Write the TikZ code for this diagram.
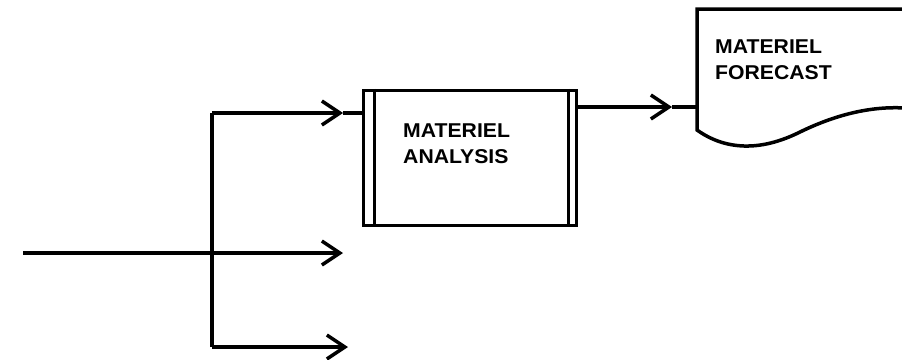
\documentclass[tikz,border=0pt]{standalone}
\usepackage{fontspec}
\setmainfont{Liberation Sans}[FakeStretch=1.06]
\usetikzlibrary{arrows.meta}
\begin{document}
\begin{tikzpicture}[x=1pt,y=-1pt,
  flow/.style={line width=3.5pt},
  barb/.style={-{Straight Barb[length=18pt,width=24pt]}},
  lbl/.style={font=\bfseries\fontsize{20}{24}\selectfont, inner sep=0pt, anchor=base west},
  procbox/.style={draw, line width=3.5pt, minimum width=213pt, minimum height=135pt, inner sep=0pt},
  stripe/.style={line width=3pt},
]
\useasboundingbox (0,0) rectangle (902,359);
% process box
\node[procbox] (ana) at (470,158) {};
\draw[stripe] ([xshift=13pt]ana.north west) -- ([xshift=13pt]ana.south west);
\draw[stripe] ([xshift=-10pt]ana.north east) -- ([xshift=-10pt]ana.south east);
\node[lbl] (anat1) at (403,137) {MATERIEL};
\node[lbl] (anat2) at (403,163) {ANALYSIS};
% document
\draw[flow] (905,9) -- (697,9) -- (697,130)
  .. controls (725,150) and (760,152) .. (800,132)
  .. controls (835,115) and (870,106) .. (905,108);
\coordinate (doc) at (697,107);
\node[lbl] (fct1) at (715,53) {MATERIEL};
\node[lbl] (fct2) at (715,79) {FORECAST};
% inputs
\coordinate (in) at (23,253);
\coordinate (jt) at (212,113);
\coordinate (jm) at (212,253);
\coordinate (jb) at (212,347);
\coordinate (tt) at (343,113);
\coordinate (tm) at (343,253);
\coordinate (tb) at (348,347);
\draw[flow] (in) -- (jm);
\draw[flow] (jt) -- (jb);
\draw[flow,barb] (jt) -- (tt);
\draw[flow] (tt) -- (tt -| ana.west);
\draw[flow,barb] (jm) -- (tm);
\draw[flow,barb] (jb) -- (tb);
% output
\coordinate (ot) at (672,107);
\draw[flow,barb] (ana.east |- ot) -- (ot);
\draw[flow] (ot) -- (doc);
\end{tikzpicture}
\end{document}
